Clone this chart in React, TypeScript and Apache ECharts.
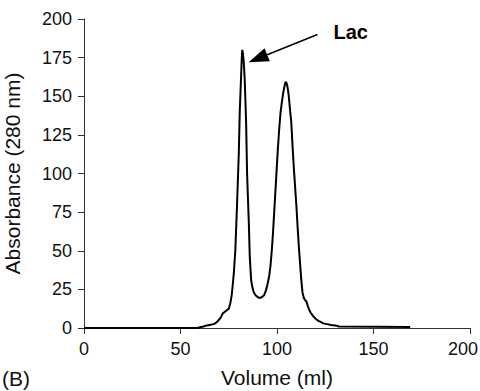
import React, { useEffect, useRef } from "react";
import * as echarts from "echarts";

const volumes = [
  0, 59, 60, 62, 63, 65, 67, 68, 69, 70,
  71, 71.5, 72, 73, 74, 75, 75.8, 76.5, 77, 77.6,
  78.4, 79.3, 80.2, 80.7, 81.4, 81.8, 82.0, 82.3, 82.8, 83.3,
  84.0, 84.5, 85.4, 85.9, 86.6, 87.3, 88, 89, 90.6, 91.5,
  93.2, 94.2, 95.2, 96.0, 96.6, 97.3, 98, 98.6, 99.2, 99.8,
  100.4, 101.1, 101.8, 102.5, 103.2, 103.8, 104.4, 104.8, 105.3, 105.7,
  106.1, 106.7, 107.4, 108.0, 108.7, 109.4, 110.1, 110.7, 111.3, 112.0,
  112.6, 113.2, 113.9, 114.6, 115.3, 116.0, 116.6, 117.4, 118.5, 120,
  121.5, 122.6, 124, 126, 128, 131, 132, 150, 169,
];
const absorbance = [
  0, 0, 0.5, 1, 1.5, 2, 2.5, 3, 4, 5.5,
  7, 8.5, 9.5, 10.5, 11.5, 12.5, 16, 21, 27, 35,
  50, 80, 113, 140, 163, 176, 180, 178, 172, 160,
  133, 100, 68, 46, 31, 26, 23, 21, 19.5, 19.5,
  21, 24, 29, 34, 40, 50, 63, 76, 89, 102,
  115, 128, 139, 146, 152, 156, 159, 159, 157, 154,
  150, 142, 133, 119, 104, 91, 78, 65, 53, 41,
  31, 23, 19.5, 18, 17, 14, 12, 10, 8, 6,
  4.5, 4, 3, 2.5, 2, 1.5, 1, 0.8, 0.6,
];
const xTicks = { min: 0, max: 200, interval: 50 };
const yTicks = { min: 0, max: 200, interval: 25 };
const annotationLabel = "Lac";
const arrowTail = [121, 190];
const arrowTip = [85.3, 172];

const FONT = '"Liberation Sans", Arial, Helvetica, sans-serif';

export default function App() {
  const ref = useRef<HTMLDivElement>(null);
  useEffect(() => {
    if (!ref.current) return;
    const chart = echarts.init(ref.current, null, { renderer: "svg" });
    const axisCommon = {
      axisLine: { show: true, lineStyle: { color: "#333", width: 1 } },
      axisTick: { show: true, inside: false, length: 6, lineStyle: { color: "#333" } },
      splitLine: { show: false },
    };
    chart.setOption({
      animation: false,
      backgroundColor: "#fff",
      grid: {
        left: 84,
        right: 10,
        top: 19,
        bottom: 63,
        containLabel: false,
        outerBoundsMode: "none",
      },
      xAxis: {
        type: "value",
        ...xTicks,
        ...axisCommon,
        axisLabel: {
          color: "#111",
          fontSize: 18,
          fontFamily: FONT,
          margin: 12,
          formatter: (v: number) => (v === xTicks.max ? `{last|${v}}` : `${v}`),
          rich: {
            last: { fontSize: 18, fontFamily: FONT, color: "#111", padding: [0, 14, 0, 0] },
          },
        },
        name: "Volume (ml)",
        nameLocation: "middle",
        nameGap: 39,
        nameTextStyle: { color: "#111", fontSize: 21, fontFamily: FONT },
      },
      yAxis: {
        type: "value",
        ...yTicks,
        ...axisCommon,
        axisLabel: { color: "#111", fontSize: 18, fontFamily: FONT, margin: 12 },
        name: "Absorbance (280 nm)",
        nameLocation: "middle",
        nameGap: 61,
        nameRotate: 90,
        nameTextStyle: { color: "#111", fontSize: 21, fontFamily: FONT },
      },
      series: [
        {
          type: "line",
          data: volumes.map((v, i) => [v, absorbance[i]]),
          showSymbol: false,
          symbol: "none",
          lineStyle: { color: "#000", width: 2 },
        },
      ],
    });
    const tip = chart.convertToPixel({ gridIndex: 0 }, arrowTip) as number[];
    const tail = chart.convertToPixel({ gridIndex: 0 }, arrowTail) as number[];
    const dx = tail[0] - tip[0];
    const dy = tail[1] - tip[1];
    const len = Math.hypot(dx, dy);
    const ux = dx / len;
    const uy = dy / len;
    const headLen = 20;
    const headHalf = 7;
    const bx = tip[0] + ux * headLen;
    const by = tip[1] + uy * headLen;
    chart.setOption({
      graphic: [
        {
          type: "line",
          shape: { x1: bx, y1: by, x2: tail[0], y2: tail[1] },
          style: { stroke: "#000", lineWidth: 1.5 },
        },
        {
          type: "polygon",
          shape: {
            points: [
              [tip[0], tip[1]],
              [bx - uy * headHalf, by + ux * headHalf],
              [bx + uy * headHalf, by - ux * headHalf],
            ],
          },
          style: { fill: "#000" },
        },
        {
          type: "text",
          x: tail[0] + 16,
          y: tail[1] - 2,
          style: {
            text: annotationLabel,
            fontFamily: FONT,
            fontSize: 20,
            fontWeight: "bold",
            fill: "#000",
            verticalAlign: "middle",
          },
        },
        {
          type: "text",
          x: 2,
          y: 378,
          style: {
            text: "(B)",
            fontFamily: FONT,
            fontSize: 21,
            fill: "#111",
            verticalAlign: "middle",
          },
        },
      ],
    });
    return () => chart.dispose();
  }, []);
  return <div ref={ref} style={{ width: 480, height: 391, position: "absolute", left: 0, top: 0 }} />;
}
